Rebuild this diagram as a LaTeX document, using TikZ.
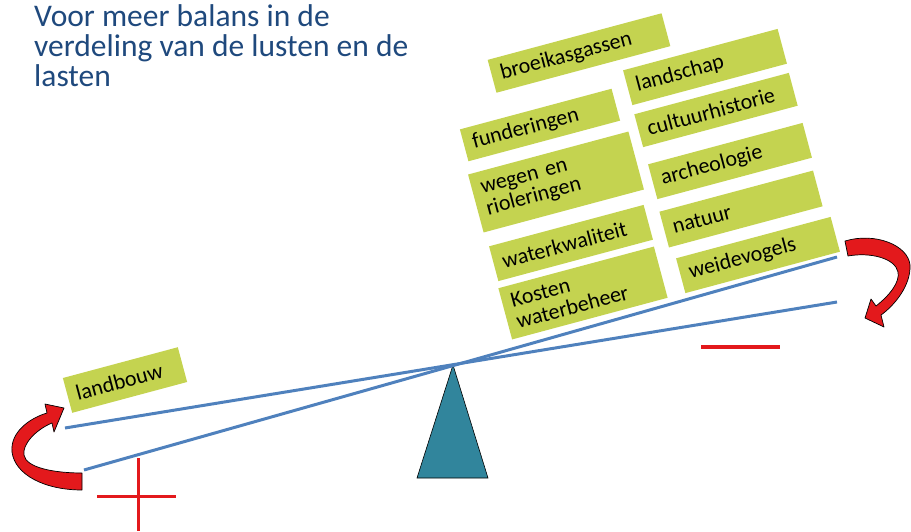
\documentclass[tikz,border=0pt]{standalone}
\usepackage{fontspec}
\setmainfont{Carlito}
\usepackage{tikz}
\definecolor{titleblue}{HTML}{1F497D}
\definecolor{tagolive}{HTML}{C4D350}
\definecolor{beamblue}{HTML}{4F81BD}
\definecolor{pivotteal}{HTML}{31859C}
\definecolor{signred}{HTML}{E3191C}

\begin{document}
\begin{tikzpicture}[x=1pt, y=-1pt, font=\fontsize{22}{22}\selectfont,
    tag/.style 2 args={rectangle, fill=tagolive, rotate=15, text width=#1, minimum height=#2,
      inner xsep=9pt, inner ysep=2pt, align=left},
    beam/.style={beamblue, line width=3pt},
    sign/.style={signred, line width=3pt},
    turn/.style={fill=signred, draw=black, line width=0.7pt, line join=round}]

    \useasboundingbox (0,0) rectangle (911,531);

    % title
    \node (title) [anchor=north west, inner sep=0pt, align=left, text=titleblue,
      font=\fontsize{31.5}{30}\selectfont] at (34,4)
      {Voor meer balans in de\\verdeling van de lusten en de\\lasten};

    % seesaw
    \coordinate (pivot) at (453,365);
    \coordinate (lowleft) at (65,428);
    \coordinate (lowright) at (837,302);
    \coordinate (upleft) at (84,470);
    \coordinate (upright) at (837,257);
    \draw [fill=pivotteal, draw=black, line width=0.6pt] (pivot) -- (488,478) -- (417,478) -- cycle;
    \draw [beam] (lowleft) -- (lowright);
    \draw [beam] (upleft) -- (upright);

    % left pan
    \node (landbouw) [tag={101pt}{36pt}] at (125,380) {landbouw};

    % right pan, left column
    \node (broeikas) [tag={162pt}{34pt}] at (579,53) {broeikasgassen};
    \node (fund) [tag={139pt}{33pt}] at (540,125) {funderingen};
    \node (wegen) [tag={148pt}{60pt}] at (556,182) {wegen en\\rioleringen};
    \node (waterkw) [tag={142pt}{36pt}] at (571,243) {waterkwaliteit};
    \node (kosten) [tag={143pt}{53pt}] at (583,293) {Kosten\\waterbeheer};

    % right pan, right column
    \node (landschap) [tag={142pt}{36pt}] at (705,67) {landschap};
    \node (cultuur) [tag={142pt}{34pt}] at (716,110) {cultuurhistorie};
    \node (archeo) [tag={142pt}{36pt}] at (730,161) {archeologie};
    \node (natuur) [tag={141pt}{37pt}] at (741,209) {natuur};
    \node (weide) [tag={142pt}{36pt}] at (758,255) {weidevogels};

    % plus and minus
    \draw [sign] (138,458) -- (138,531);
    \draw [sign] (97,496) -- (176,496);
    \draw [sign, line width=3.5pt] (701,347) -- (780,347);

    % curved arrows
    \draw [turn] (82,473) -- (82,490) .. controls (45,490) and (15,475) .. (12,452)
      .. controls (10,432) and (30,418) .. (47,413) -- (45,404) -- (64,408) -- (54,432) -- (52,423)
      .. controls (35,430) and (22,445) .. (24,455) .. controls (26,468) and (55,473) .. (82,473) -- cycle;
    \draw [turn] (845,241) .. controls (875,232) and (908,245) .. (910,265)
      .. controls (911,285) and (895,305) .. (881,315) -- (884,327) -- (865,318) -- (871,299) -- (876,306)
      .. controls (890,295) and (900,282) .. (898,272) .. controls (895,258) and (870,252) .. (848,256) -- cycle;
\end{tikzpicture}
\end{document}
